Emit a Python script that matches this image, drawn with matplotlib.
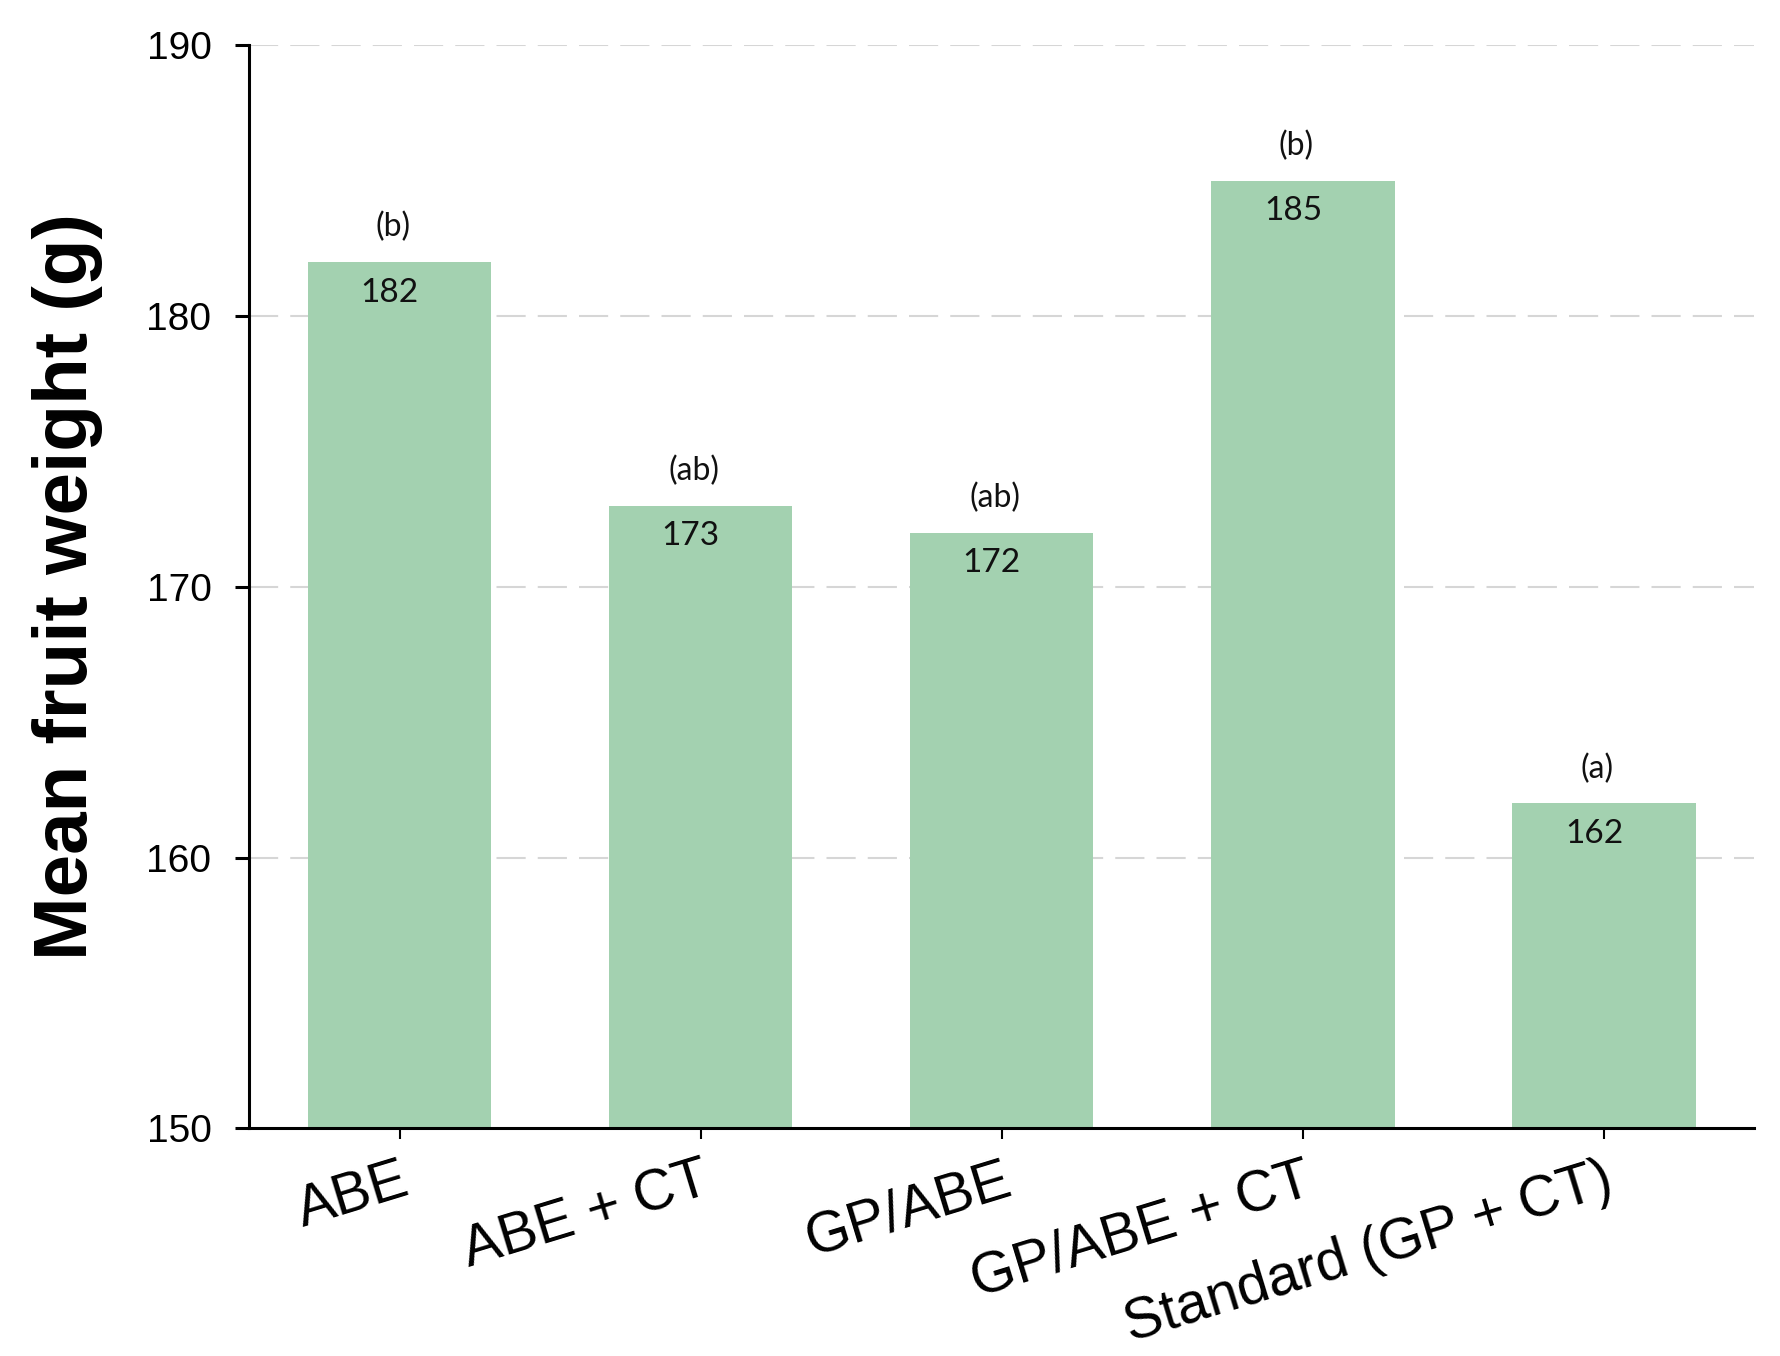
import matplotlib
matplotlib.use("Agg")
import matplotlib.pyplot as plt

categories = ["ABE", "ABE + CT", "GP/ABE", "GP/ABE + CT", "Standard (GP + CT)"]
values = [182, 173, 172, 185, 162]
letters = ["(b)", "(ab)", "(ab)", "(b)", "(a)"]
yticks = [150, 160, 170, 180, 190]

fig = plt.figure(figsize=(17.81, 13.56), dpi=100)
ax = fig.add_axes([0.1398, 0.168, 0.985 - 0.1398, 0.9665 - 0.168])

x = list(range(len(categories)))
ax.bar(x, values, width=0.61, color="#a3d1b0", zorder=2)

ax.set_xlim(-0.5, 4.5)
ax.set_ylim(150, 190)
ax.set_yticks(yticks)
ax.set_yticklabels([str(t) for t in yticks], fontfamily="Liberation Sans", fontsize=28)
ax.set_xticks(x)
ax.set_xticklabels(categories, fontfamily="Liberation Sans", fontsize=41,
                   rotation=17, ha="right", va="top", rotation_mode="anchor")

for t in yticks[1:]:
    ax.axhline(t, color="#d6d6d6", lw=1.5, linestyle=(0, (14, 5.8)), zorder=1)

for s in ["top", "right"]:
    ax.spines[s].set_visible(False)
for s in ["left", "bottom"]:
    ax.spines[s].set_linewidth(2.2)
    ax.spines[s].set_color("black")

ax.tick_params(axis="y", length=10, width=2.2, pad=17)
ax.tick_params(axis="x", length=8, width=1.5, pad=10)

for xi, v, lab in zip(x, values, letters):
    ax.annotate(str(v), (xi, v), xytext=(-7, -22), textcoords="offset points",
                ha="center", va="center", fontsize=24, fontfamily="Lato",
                color="#111111", zorder=3)
    ax.annotate(lab, (xi, v), xytext=(-5, 25), textcoords="offset points",
                ha="center", va="center", fontsize=23, fontfamily="Lato",
                color="#111111", zorder=3)

ax.set_ylabel("Mean fruit weight (g)", fontfamily="Liberation Sans",
              fontweight="bold", fontsize=55)
ax.yaxis.set_label_coords(-0.097, 0.5)

fig.savefig("out.png", dpi=100)
